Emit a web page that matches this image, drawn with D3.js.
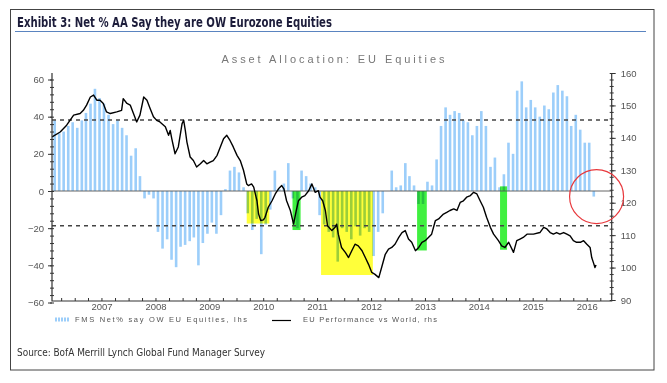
<!DOCTYPE html>
<html>
<head>
<meta charset="utf-8">
<script src="https://cdn.jsdelivr.net/npm/d3@7"></script>
<style>
  body { margin: 0; background: #fff; }
  svg { display: block; }
</style>
</head>
<body>
<div id="chart"></div>
<script>
// FMS net % overweight Eurozone equities, monthly from Aug 2006 (lhs)
const fmsStart = new Date(2006, 7, 1);
const fmsNet = [
  38, 31, 32, 35, 37, 34, 38, 42, 47, 55, 50, 47, 41, 36, 38, 34, 30, 19, 23, 8,
  -4, -2, -4, -22, -31, -26, -37, -41, -30, -29, -27, -25, -40, -28, -23, -17, -23, -13, 1, 11,
  13, 10, 2, -12, -21, -15, -34, -18, -10, 11, 1, 4, 15, -4, -20, 11, 8, 4, 2, -13,
  -18, -22, -25, -38, -20, -22, -26, -19, -24, -20, -22, -35, -22, -12, 0, 11, 2, 3, 15, 8,
  3, -7, -7, 5, 3, 17, 35, 45, 41, 43, 42, 38, 37, 30, 35, 43, 35, 13, 18, 2,
  9, 26, 20, 54, 59, 45, 49, 45, 40, 46, 44, 53, 57, 54, 51, 35, 41, 33, 26, 26,
  -3
];

// EU performance vs World (rhs), decimal year / index level
const perfYear = [
  2006.58, 2006.73, 2006.85, 2006.98, 2007.10, 2007.16, 2007.22, 2007.29, 2007.35, 2007.41,
  2007.47, 2007.53, 2007.59, 2007.66, 2007.78, 2007.87, 2007.90, 2007.97, 2008.03, 2008.09,
  2008.15, 2008.21, 2008.28, 2008.34, 2008.40, 2008.46, 2008.52, 2008.58, 2008.68, 2008.74,
  2008.77, 2008.80, 2008.86, 2008.92, 2008.99, 2009.02, 2009.05, 2009.08, 2009.14, 2009.20,
  2009.26, 2009.33, 2009.39, 2009.45, 2009.51, 2009.57, 2009.64, 2009.70, 2009.76, 2009.82,
  2009.88, 2009.94, 2010.01, 2010.07, 2010.13, 2010.19, 2010.22, 2010.28, 2010.32, 2010.38,
  2010.41, 2010.45, 2010.50, 2010.53, 2010.59, 2010.66, 2010.72, 2010.78, 2010.84, 2010.88,
  2010.93, 2011.00, 2011.06, 2011.11, 2011.15, 2011.21, 2011.27, 2011.34, 2011.40, 2011.46,
  2011.52, 2011.55, 2011.60, 2011.65, 2011.69, 2011.77, 2011.83, 2011.86, 2011.89, 2011.95,
  2012.02, 2012.08, 2012.14, 2012.20, 2012.26, 2012.33, 2012.39, 2012.45, 2012.51, 2012.57,
  2012.64, 2012.70, 2012.76, 2012.82, 2012.88, 2012.94, 2013.01, 2013.07, 2013.13, 2013.19,
  2013.25, 2013.32, 2013.38, 2013.44, 2013.50, 2013.56, 2013.62, 2013.69, 2013.75, 2013.78,
  2013.84, 2013.90, 2013.96, 2014.03, 2014.09, 2014.15, 2014.21, 2014.27, 2014.34, 2014.40,
  2014.46, 2014.52, 2014.58, 2014.64, 2014.71, 2014.77, 2014.86, 2014.92, 2014.98, 2015.05,
  2015.14, 2015.20, 2015.26, 2015.32, 2015.39, 2015.51, 2015.63, 2015.70, 2015.76, 2015.82,
  2015.88, 2015.94, 2016.00, 2016.07, 2016.13, 2016.19, 2016.25, 2016.31, 2016.38, 2016.44,
  2016.50, 2016.56, 2016.59, 2016.62, 2016.65, 2016.67
];
const perfValue = [
  140.3, 141.8, 143.9, 147.0, 147.5, 148.5, 150.1, 152.6, 153.2, 151.6,
  151.6, 150.6, 148.0, 147.5, 148.0, 148.5, 152.1, 150.6, 150.1, 147.5,
  144.9, 147.0, 152.6, 151.6, 149.0, 146.5, 145.4, 144.9, 143.4, 140.8,
  142.3, 139.7, 135.1, 137.2, 144.4, 145.4, 142.3, 138.7, 134.1, 133.0,
  131.0, 132.0, 133.0, 132.0, 132.5, 133.0, 134.6, 137.2, 139.7, 140.8,
  139.2, 137.2, 134.6, 133.0, 130.0, 125.8, 125.3, 125.8, 124.8, 120.6,
  116.5, 114.5, 114.7, 115.5, 118.6, 120.6, 122.7, 124.3, 125.3, 124.3,
  120.6, 117.6, 113.4, 117.6, 120.6, 121.7, 122.2, 123.7, 125.8, 123.2,
  123.7, 121.7, 120.6, 117.6, 112.9, 111.4, 112.4, 113.4, 110.3, 106.2,
  104.7, 103.1, 105.2, 107.2, 106.7, 105.2, 103.1, 101.0, 98.5, 97.9,
  96.9, 100.5, 104.1, 105.7, 106.2, 107.2, 109.3, 110.8, 111.4, 108.8,
  107.8, 105.2, 106.2, 107.8, 108.3, 109.3, 110.3, 114.5, 115.0, 115.5,
  116.5, 117.0, 117.6, 118.1, 117.6, 120.1, 120.6, 121.7, 122.2, 123.2,
  122.7, 120.6, 118.6, 115.5, 112.4, 110.3, 108.3, 106.7, 106.2, 107.8,
  104.7, 108.3, 108.8, 109.3, 110.3, 110.3, 110.8, 112.4, 111.9, 110.8,
  110.3, 110.8, 110.3, 110.8, 110.3, 109.8, 108.3, 107.8, 107.8, 108.3,
  107.2, 106.2, 103.1, 101.6, 100.0, 100.8
];

// highlighted episodes (lhs units)
const shadeFrom = [2010.19, 2011.04, 2011.57, 2013.35, 2014.89];
const shadeTo = [2010.61, 2011.19, 2012.53, 2013.53, 2015.02];
const shadeLow = [-17.5, -21, -45.2, -32, -31.6];
const shadeHigh = [0, 0, 0, 0, 2.5];
const shadeKind = ["yellow", "green", "yellow", "green", "green"];

const bandLevels = [38.2, -18.7];   // +/- 1 stdev lines
const leftTicks = [-60, -40, -20, 0, 20, 40, 60];
const rightTicks = [90, 100, 110, 120, 130, 140, 150, 160];
const yearLabels = [2007, 2008, 2009, 2010, 2011, 2012, 2013, 2014, 2015, 2016];
const circleAt = [2016.68, -3];

function yearToDate(y) {
    const yr = Math.floor(y);
    const a = new Date(yr, 0, 1), b = new Date(yr + 1, 0, 1);
    return new Date(+a + (y - yr) * (b - a));
}

function drawChart() {
    const width = 667, height = 383;
    const top = 73, bottom = 301, left = 52, right = 611.7;

    const svg = d3.select("#chart").append("svg")
        .attr("width", width)
        .attr("height", height)
        .style("font-family", "'Liberation Sans', Arial, sans-serif");

    // frame + header
    svg.append("rect")
        .attr("x", 10.5).attr("y", 9.5)
        .attr("width", 643.5).attr("height", 360.5)
        .attr("fill", "none").attr("stroke", "#444");

    svg.append("text")
        .attr("x", 17).attr("y", 27)
        .attr("font-family", "'Liberation Sans Narrow', 'DejaVu Sans Condensed', sans-serif")
        .attr("font-weight", "bold").attr("font-size", 14)
        .attr("fill", "#1c1c3a")
        .attr("textLength", 315).attr("lengthAdjust", "spacingAndGlyphs")
        .text("Exhibit 3: Net % AA Say they are OW Eurozone Equities");

    svg.append("line")
        .attr("x1", 15).attr("x2", 646).attr("y1", 31.5).attr("y2", 31.5)
        .attr("stroke", "#5a84c0").attr("stroke-width", 1);

    svg.append("text")
        .attr("x", 333).attr("y", 63)
        .attr("text-anchor", "middle")
        .attr("font-size", 11).attr("fill", "#777")
        .attr("textLength", 223).attr("lengthAdjust", "spacing")
        .text("Asset Allocation: EU Equities");

    svg.append("text")
        .attr("x", 17).attr("y", 356)
        .attr("font-family", "'Liberation Sans Narrow', 'DejaVu Sans Condensed', sans-serif")
        .attr("font-size", 10.5).attr("fill", "#333")
        .attr("textLength", 248).attr("lengthAdjust", "spacingAndGlyphs")
        .text("Source: BofA Merrill Lynch Global Fund Manager Survey");

    // scales
    const x = d3.scaleTime()
        .domain([yearToDate(2006.578), yearToDate(2016.96)])
        .range([left, right]);
    const yL = d3.scaleLinear().domain([-60, 60]).range([302.5, 79.5]);
    const yR = d3.scaleLinear().domain([90, 160]).range([300, 73]);

    const g = svg.append("g");

    // bars
    const months = d3.timeMonth.range(fmsStart, d3.timeMonth.offset(fmsStart, fmsNet.length));
    const barW = 2.6;
    g.append("g").selectAll("rect")
        .data(fmsNet)
        .join("rect")
        .attr("x", (d, i) => x(d3.timeDay.offset(months[i], 17)) - barW / 2)
        .attr("y", d => yL(Math.max(0, d)))
        .attr("width", barW)
        .attr("height", d => Math.abs(yL(d) - yL(0)))
        .attr("fill", "#9ccefa");

    // shaded episodes, multiplied over the bars
    const shades = shadeFrom.map((f, i) => ({ f, t: shadeTo[i], lo: shadeLow[i], hi: shadeHigh[i], k: shadeKind[i] }));
    g.append("g").selectAll("rect")
        .data(shades)
        .join("rect")
        .attr("x", d => x(yearToDate(d.f)))
        .attr("width", d => x(yearToDate(d.t)) - x(yearToDate(d.f)))
        .attr("y", d => yL(d.hi))
        .attr("height", d => yL(d.lo) - yL(d.hi))
        .attr("fill", d => d.k === "yellow" ? "#ffff3a" : "#40f040")
        .style("mix-blend-mode", "multiply");

    // zero + band lines
    g.append("line")
        .attr("x1", left).attr("x2", right)
        .attr("y1", yL(0)).attr("y2", yL(0))
        .attr("stroke", "#555").attr("stroke-width", 0.9);

    g.append("g").selectAll("line")
        .data(bandLevels)
        .join("line")
        .attr("x1", left).attr("x2", right)
        .attr("y1", d => yL(d)).attr("y2", d => yL(d))
        .attr("stroke", "#444").attr("stroke-width", 1.3)
        .attr("stroke-dasharray", "4,4");

    // performance line
    const perf = perfYear.map((t, i) => [yearToDate(t), perfValue[i]]);
    g.append("path")
        .datum(perf)
        .attr("fill", "none")
        .attr("stroke", "#000")
        .attr("stroke-width", 1.4)
        .attr("stroke-linejoin", "round")
        .attr("d", d3.line().x(d => x(d[0])).y(d => yR(d[1])));

    // axes
    const axisCol = "#333";
    function style(sel) {
        sel.select(".domain").remove();
        sel.selectAll("line").attr("stroke", axisCol);
        sel.selectAll("text").attr("fill", "#555").attr("font-size", 9.5);
    }

    svg.append("g")
        .attr("transform", `translate(${left},0)`)
        .call(d3.axisLeft(yL).tickValues(leftTicks).tickSize(4).tickPadding(4))
        .call(style);
    svg.append("g")
        .attr("transform", `translate(${left},0)`)
        .call(d3.axisLeft(yL).tickValues(d3.range(-60, 61, 4)).tickSize(2).tickFormat(""))
        .call(style);
    svg.append("g")
        .attr("transform", `translate(${left},0)`)
        .call(d3.axisLeft(yL).tickValues(d3.range(-60, 61, 4)).tickSize(-2).tickFormat(""))
        .call(style);

    svg.append("g")
        .attr("transform", `translate(${right},0)`)
        .call(d3.axisRight(yR).tickValues(rightTicks).tickSize(4).tickPadding(5))
        .call(style);
    svg.append("g")
        .attr("transform", `translate(${right},0)`)
        .call(d3.axisRight(yR).tickValues(d3.range(90, 161, 2)).tickSize(2).tickFormat(""))
        .call(style);
    svg.append("g")
        .attr("transform", `translate(${right},0)`)
        .call(d3.axisRight(yR).tickValues(d3.range(90, 161, 2)).tickSize(-2).tickFormat(""))
        .call(style);

    const quarters = d3.timeMonth.every(3).range(x.domain()[0], x.domain()[1]);
    svg.append("g")
        .attr("transform", `translate(0,${bottom})`)
        .call(d3.axisBottom(x).tickValues(quarters).tickSize(-3).tickFormat(""))
        .call(style);
    svg.append("g")
        .attr("transform", `translate(0,${bottom})`)
        .call(d3.axisBottom(x).tickValues(yearLabels.map(y => new Date(y, 6, 1)))
            .tickSize(0).tickPadding(2).tickFormat(d3.timeFormat("%Y")))
        .call(style);

    // axis lines
    svg.append("path")
        .attr("d", `M${left},${top}V${bottom}H${right}V${top}`)
        .attr("fill", "none").attr("stroke", axisCol).attr("stroke-width", 1.2);

    // red circle annotation
    svg.append("circle")
        .attr("cx", x(yearToDate(circleAt[0])))
        .attr("cy", yL(circleAt[1]))
        .attr("r", 27)
        .attr("fill", "none").attr("stroke", "#e8383c").attr("stroke-width", 1.2);

    // legend
    const lg = svg.append("g").attr("font-size", 7.5).attr("fill", "#555");
    lg.selectAll("rect")
        .data(d3.range(5))
        .join("rect")
        .attr("x", d => 55 + d * 3).attr("y", 317.5)
        .attr("width", 2).attr("height", 4)
        .attr("fill", "#9ccefa");
    lg.append("text")
        .attr("x", 75).attr("y", 322)
        .attr("textLength", 172).attr("lengthAdjust", "spacing")
        .text("FMS Net% say OW EU Equities, lhs");
    lg.append("line")
        .attr("x1", 272).attr("x2", 291).attr("y1", 320.5).attr("y2", 320.5)
        .attr("stroke", "#000").attr("stroke-width", 1.2);
    lg.append("text")
        .attr("x", 303).attr("y", 322)
        .attr("textLength", 134).attr("lengthAdjust", "spacing")
        .text("EU Performance vs World, rhs");
}

drawChart();
</script>
</body>
</html>
